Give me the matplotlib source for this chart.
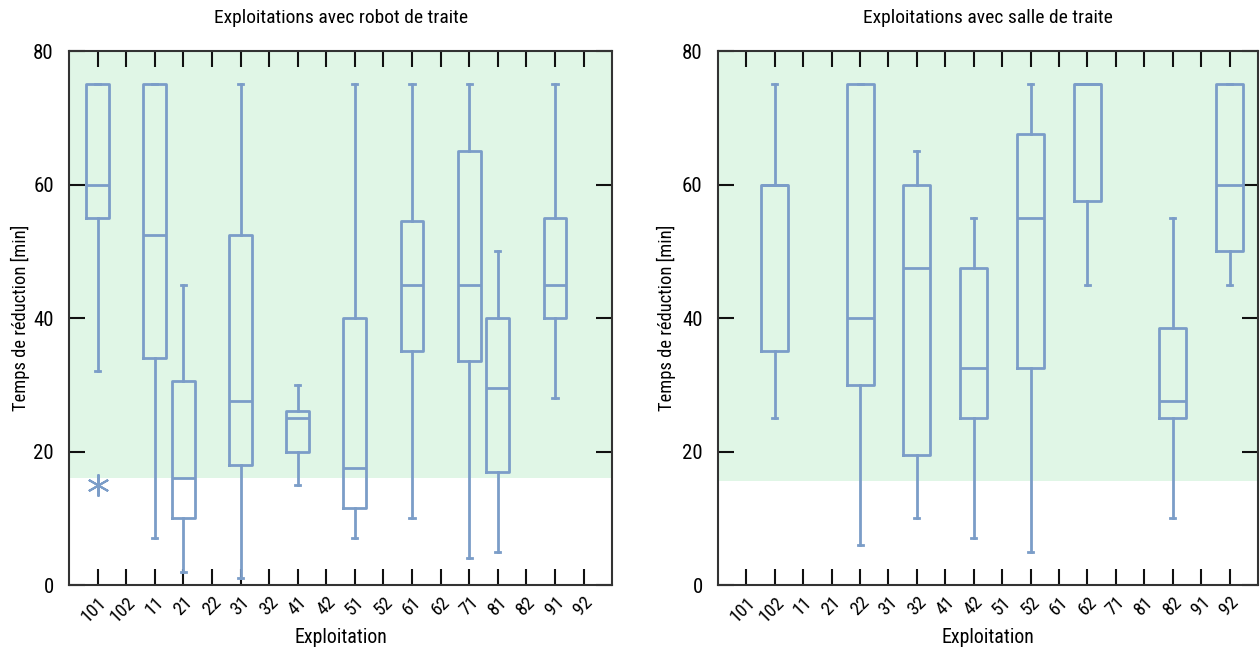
import matplotlib
matplotlib.use("Agg")
import matplotlib.pyplot as plt
from matplotlib import font_manager
from matplotlib.transforms import ScaledTranslation

# categories on x (same for both panels)
categories = ["101", "102", "11", "21", "22", "31", "32", "41", "42",
              "51", "52", "61", "62", "71", "81", "82", "91", "92"]

# robot de traite: whisker low, Q1, median, Q3, whisker high
robot_cats = ["101", "11", "21", "31", "41", "51", "61", "71", "81", "91"]
robot_low = [32, 7, 2, 1, 15, 7, 10, 4, 5, 28]
robot_q1 = [55, 34, 10, 18, 20, 11.5, 35, 33.5, 17, 40]
robot_med = [60, 52.5, 16, 27.5, 25, 17.5, 45, 45, 29.5, 45]
robot_q3 = [75, 75, 30.5, 52.5, 26, 40, 54.5, 65, 40, 55]
robot_high = [75, 75, 45, 75, 30, 75, 75, 75, 50, 75]
robot_outliers = {"101": [15]}

# salle de traite
salle_cats = ["102", "22", "32", "42", "52", "62", "82", "92"]
salle_low = [25, 6, 10, 7, 5, 45, 10, 45]
salle_q1 = [35, 30, 19.5, 25, 32.5, 57.5, 25, 50]
salle_med = [60, 40, 47.5, 32.5, 55, 75, 27.5, 60]
salle_q3 = [60, 75, 60, 47.5, 67.5, 75, 38.5, 75]
salle_high = [75, 75, 65, 55, 75, 75, 55, 75]
salle_outliers = {}

shade_robot = 16
shade_salle = 15.6

BOX = "#7b9dc8"
GREEN = "#e0f6e6"

names = {f.name for f in font_manager.fontManager.ttflist}
fam = "DejaVu Sans"
for cand in ["Liberation Sans Narrow", "Roboto Condensed", "Roboto"]:
    if cand in names:
        fam = cand
        break
plt.rcParams["font.family"] = [fam, "DejaVu Sans"]


def panel(ax, title, cats, low, q1, med, q3, high, outliers, shade, width, ylab_x):
    ax.axhspan(shade, 80, color=GREEN, zorder=0, lw=0)
    stats = []
    pos = []
    for i, c in enumerate(cats):
        stats.append(dict(whislo=low[i], q1=q1[i], med=med[i], q3=q3[i],
                          whishi=high[i], fliers=outliers.get(c, []), label=c))
        pos.append(categories.index(c))
    lp = dict(color=BOX, linewidth=2)
    ax.bxp(stats, positions=pos, widths=width, boxprops=lp, medianprops=lp,
           whiskerprops=lp, capprops=lp, capwidths=0.18,
           flierprops=dict(marker=(6, 2, 0), markersize=16, markeredgecolor=BOX,
                           markeredgewidth=1.5, linestyle="none"),
           manage_ticks=False)
    ax.set_xlim(-1, len(categories))
    ax.set_ylim(0, 80)
    ax.set_xticks(range(len(categories)))
    ax.set_xticklabels(categories, rotation=45, ha="right", va="top",
                       rotation_mode="anchor", fontsize=13.5)
    off = ScaledTranslation(7.5 / 72, 0, ax.figure.dpi_scale_trans)
    for lab in ax.get_xticklabels():
        lab.set_transform(lab.get_transform() + off)
    ax.set_yticks([0, 20, 40, 60, 80])
    ax.tick_params(axis="both", direction="in", length=11.5, width=1.5,
                   top=True, right=True, colors="#111111", labelcolor="black")
    ax.tick_params(axis="y", labelsize=15, pad=11)
    ax.tick_params(axis="x", pad=6)
    for s in ax.spines.values():
        s.set_linewidth(1.5)
        s.set_color("#333333")
    ax.set_title(title, fontsize=14, pad=20)
    ax.set_xlabel("Exploitation", fontsize=14.3, va="center")
    ax.xaxis.set_label_coords(0.5, -0.099)
    ax.set_ylabel("Temps de réduction [min]", fontsize=13.3, va="center")
    ax.yaxis.set_label_coords(ylab_x, 0.5)


fig = plt.figure(figsize=(12.6, 6.48), dpi=100)
ax1 = fig.add_axes([0.0548, 0.0972, 0.431, 0.824])
ax2 = fig.add_axes([0.5698, 0.0972, 0.4286, 0.824])

panel(ax1, "Exploitations avec robot de traite", robot_cats, robot_low, robot_q1,
      robot_med, robot_q3, robot_high, robot_outliers, shade_robot, 0.8, -0.09)
panel(ax2, "Exploitations avec salle de traite", salle_cats, salle_low, salle_q1,
      salle_med, salle_q3, salle_high, salle_outliers, shade_salle, 0.95, -0.095)

fig.savefig("out.png", dpi=100)
